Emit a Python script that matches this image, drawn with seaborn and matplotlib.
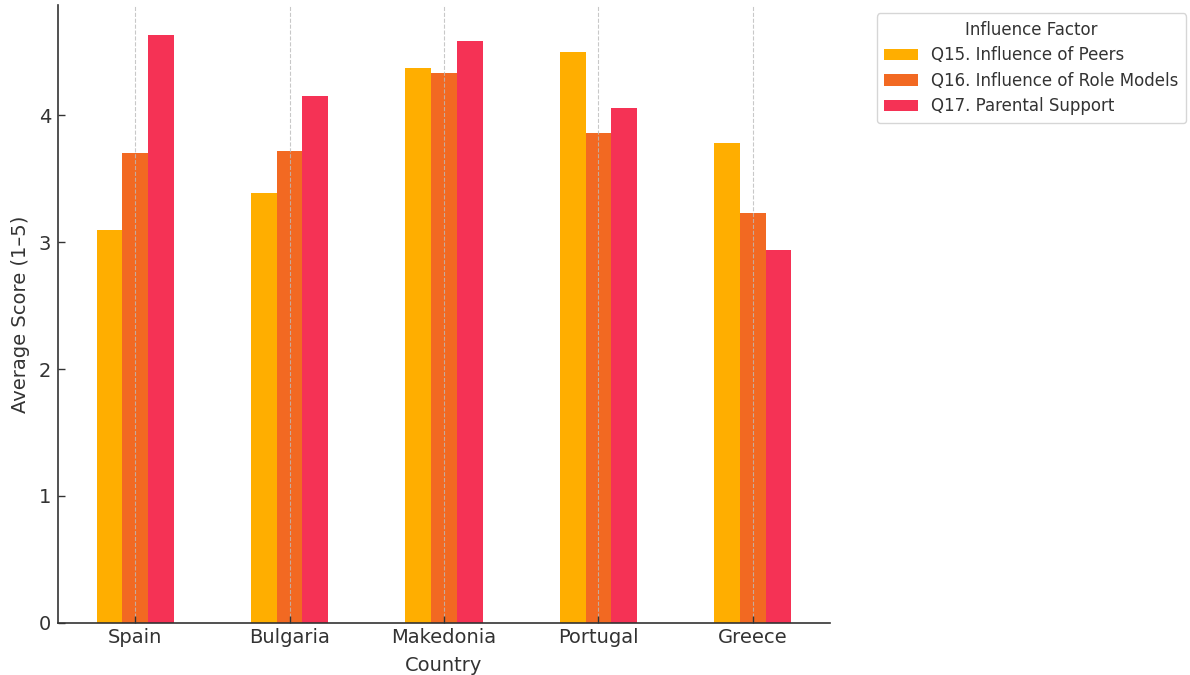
import matplotlib
matplotlib.use("Agg")
import matplotlib.pyplot as plt
import seaborn as sns
import pandas as pd

countries = ["Spain", "Bulgaria", "Makedonia", "Portugal", "Greece"]
factors = ["Q15. Influence of Peers", "Q16. Influence of Role Models", "Q17. Parental Support"]
peers = [3.10, 3.39, 4.37, 4.50, 3.78]
role_models = [3.70, 3.72, 4.33, 3.86, 3.23]
parental = [4.63, 4.15, 4.59, 4.06, 2.94]
colors = ["#FFAE00", "#F26922", "#F53255"]

rows = []
for series_name, vals in zip(factors, [peers, role_models, parental]):
    for c, v in zip(countries, vals):
        rows.append({"Country": c, "Factor": series_name, "Score": v})
df = pd.DataFrame(rows)

sns.set_theme(style="white")
plt.rcParams["font.family"] = ["DejaVu Sans"]
text_color = "#333333"

fig = plt.figure(figsize=(11.9, 6.75), dpi=100)
ax = fig.add_axes([58 / 1190, (675 - 622.7) / 675, 772 / 1190, (622.7 - 5) / 675])

sns.barplot(data=df, x="Country", y="Score", hue="Factor", order=countries,
            hue_order=factors, palette=colors, width=0.5, gap=0,
            linewidth=0, saturation=1, errorbar=None, ax=ax)

ax.set_xlim(-0.5, len(countries) - 0.5)
ax.set_ylim(0, 4.87)
ax.set_yticks([0, 1, 2, 3, 4])

ax.grid(axis="x", linestyle="--", color="#bbbbbb", linewidth=0.8, alpha=0.8)
ax.grid(axis="y", visible=False)
ax.set_axisbelow(False)

for side in ["top", "right"]:
    ax.spines[side].set_visible(False)
for side in ["left", "bottom"]:
    ax.spines[side].set_color("#333333")
    ax.spines[side].set_linewidth(1.2)

ax.tick_params(axis="both", direction="in", length=5, width=1, colors="#333333",
               labelsize=14, labelcolor=text_color, left=True, bottom=True)
ax.tick_params(axis="x", pad=4)
ax.tick_params(axis="y", pad=5)
ax.set_xlabel("Country", fontsize=14, color=text_color, labelpad=6)
ax.set_ylabel("Average Score (1–5)", fontsize=14, color=text_color, labelpad=6)

handles, labels = ax.get_legend_handles_labels()
if ax.get_legend() is not None:
    ax.get_legend().remove()
leg = ax.legend(handles, labels, title="Influence Factor", loc="upper left",
                bbox_to_anchor=(1.05, 1.0), fontsize=12, title_fontsize=12,
                frameon=True, fancybox=True, edgecolor="#cccccc",
                labelspacing=0.45, borderpad=0.45)
for t in leg.get_texts():
    t.set_color(text_color)
leg.get_title().set_color(text_color)

fig.savefig("out.png", dpi=100)
